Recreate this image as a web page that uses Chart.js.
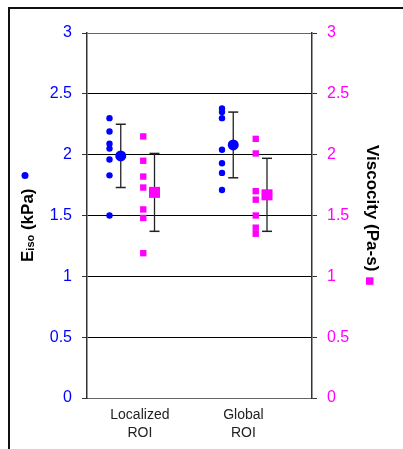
<!DOCTYPE html>
<html>
<head>
<meta charset="utf-8">
<script src="https://cdn.jsdelivr.net/npm/chart.js@4/dist/chart.umd.min.js"></script>
<style>
  body { margin: 0; background: #fff; }
</style>
</head>
<body>
<canvas id="chart" width="403" height="449"></canvas>
<script>
// categories and where their labels sit on the 0..2 x scale
const categories = ['Localized ROI', 'Global ROI'];
const catCenter = [0.5, 1.5];
const labelPos = [0.47, 1.39];

// individual samples
const eisoLocal  = [2.30, 2.19, 2.09, 2.05, 1.96, 1.83, 1.50];
const eisoGlobal = [2.38, 2.35, 2.30, 2.04, 1.93, 1.85, 1.71];
const viscLocal  = [2.15, 1.95, 1.82, 1.73, 1.55, 1.48, 1.19];
const viscGlobal = [2.13, 2.01, 1.70, 1.63, 1.50, 1.40, 1.35];

// mean +/- sd
const eisoMean = [1.99, 2.08];
const eisoSD   = [0.26, 0.27];
const viscMean = [1.69, 1.67];
const viscSD   = [0.32, 0.30];

const yTicks = [0, 0.5, 1, 1.5, 2, 2.5, 3];

const BLUE = '#0000ff';
const PINK = '#ff00ff';
const FONT = '"Liberation Sans", Arial, Helvetica, sans-serif';

// horizontal offsets inside a category
const offDots = -0.3, offEisoMean = -0.2, offVisc = 0, offViscMean = 0.1;

function pts(values, x){
    return values.map(v => ({x: x, y: v}));
}

const datasets = [];

// means on top
datasets.push({
    label: 'Eiso mean', yAxisID: 'y', order: 0,
    data: eisoMean.map((m,i) => ({x: catCenter[i] + offEisoMean, y: m})),
    pointStyle: 'circle', pointRadius: 5.5, pointBackgroundColor: BLUE, pointBorderWidth: 0
});
datasets.push({
    label: 'Visc mean', yAxisID: 'y2', order: 0,
    data: viscMean.map((m,i) => ({x: catCenter[i] + offViscMean, y: m})),
    pointStyle: 'rect', pointRadius: 7.8, pointBackgroundColor: PINK, pointBorderWidth: 0
});

// samples
datasets.push({
    label: 'Eiso', yAxisID: 'y', order: 1,
    data: pts(eisoLocal, catCenter[0] + offDots).concat(pts(eisoGlobal, catCenter[1] + offDots)),
    pointStyle: 'circle', pointRadius: 3.2, pointBackgroundColor: BLUE, pointBorderWidth: 0
});
datasets.push({
    label: 'Viscocity', yAxisID: 'y2', order: 1,
    data: pts(viscLocal, catCenter[0] + offVisc).concat(pts(viscGlobal, catCenter[1] + offVisc)),
    pointStyle: 'rect', pointRadius: 4.5, pointBackgroundColor: PINK, pointBorderWidth: 0
});

// error bars, one small line dataset each
function errorBar(mean, sd, x, axis){
    return {
        yAxisID: axis, order: 2, showLine: true,
        data: [{x: x, y: mean - sd}, {x: x, y: mean + sd}],
        borderColor: '#222', borderWidth: 1.3,
        pointStyle: 'line', pointRadius: 5, pointBorderColor: '#222', pointBorderWidth: 1.5
    };
}
for (let i = 0; i < categories.length; i++) {
    datasets.push(errorBar(eisoMean[i], eisoSD[i], catCenter[i] + offEisoMean, 'y'));
    datasets.push(errorBar(viscMean[i], viscSD[i], catCenter[i] + offViscMean, 'y2'));
}

// outer frame (left and top edges only)
const frame = {
    id: 'frame',
    beforeDraw(chart){
        const ctx = chart.ctx;
        ctx.save();
        ctx.fillStyle = '#111';
        ctx.fillRect(8, 7, chart.width - 8, 2);
        ctx.fillRect(8, 7, 2, chart.height - 7);
        ctx.restore();
    }
};

// axis titles with subscript and marker symbols
const axisTitles = {
    id: 'axisTitles',
    afterDraw(chart){
        const ctx = chart.ctx;
        ctx.save();
        ctx.fillStyle = '#000';
        ctx.textBaseline = 'alphabetic';
        ctx.textAlign = 'left';

        // left: E_iso (kPa) + blue dot
        ctx.save();
        ctx.translate(33, 262);
        ctx.rotate(-Math.PI / 2);
        let u = 0;
        ctx.font = 'bold 17px ' + FONT;
        ctx.fillText('E', u, 0);
        u += ctx.measureText('E').width;
        ctx.font = 'bold 11px ' + FONT;
        ctx.fillText('iso', u, 1);
        u += ctx.measureText('iso').width;
        ctx.font = 'bold 17px ' + FONT;
        ctx.fillText(' (kPa)', u, 0);
        u += ctx.measureText(' (kPa)').width;
        ctx.fillStyle = BLUE;
        ctx.beginPath();
        ctx.arc(u + 13, -8, 3.5, 0, Math.PI * 2);
        ctx.fill();
        ctx.restore();

        // right: Viscocity (Pa-s) + pink square
        ctx.save();
        ctx.translate(367, 145);
        ctx.rotate(Math.PI / 2);
        ctx.font = 'bold 17px ' + FONT;
        ctx.fillStyle = '#000';
        ctx.fillText('Viscocity (Pa-s)', 0, 0);
        const w = ctx.measureText('Viscocity (Pa-s)').width;
        ctx.fillStyle = PINK;
        ctx.fillRect(w + 6, -6.5, 7.5, 7.5);
        ctx.restore();

        ctx.restore();
    }
};

const ctx = document.getElementById('chart').getContext('2d');
Chart.defaults.font.family = FONT;

window.viscChart = new Chart(ctx, {
    type: 'scatter',
    data: { datasets: datasets },
    plugins: [frame, axisTitles],
    options: {
        responsive: false,
        animation: false,
        events: [],
        layout: { padding: { top: 33, bottom: 0, left: 0, right: 0 } },
        plugins: { legend: { display: false }, tooltip: { enabled: false } },
        scales: {
            x: {
                type: 'linear', min: 0, max: 2,
                afterBuildTicks: s => { s.ticks = labelPos.map(v => ({value: v})); },
                afterFit: s => { s.height = 51; },
                ticks: {
                    autoSkip: false, maxRotation: 0, padding: 8,
                    color: '#222', font: { size: 14, lineHeight: 1.3 },
                    callback: (v, i) => categories[i].split(' ')
                },
                grid: { display: false, drawTicks: false },
                border: { color: '#666', width: 1 }
            },
            y: {
                position: 'left', min: 0, max: 3,
                afterBuildTicks: s => { s.ticks = yTicks.map(v => ({value: v})); },
                afterFit: s => { s.width = 87; },
                ticks: { color: BLUE, font: { size: 16 }, padding: 10, callback: v => String(v) },
                grid: {
                    color: c => (c.tick && (c.tick.value === 3 || c.tick.value === 0)) ? '#666' : '#000',
                    lineWidth: 1, tickColor: '#333', tickLength: 5
                },
                border: { color: '#333', width: 1.5 }
            },
            y2: {
                position: 'right', min: 0, max: 3,
                afterBuildTicks: s => { s.ticks = yTicks.map(v => ({value: v})); },
                afterFit: s => { s.width = 403 - 312; },
                ticks: { color: PINK, font: { size: 16 }, padding: 10, callback: v => String(v) },
                grid: { drawOnChartArea: false, tickColor: '#333', tickLength: 5 },
                border: { color: '#333', width: 1.5 }
            }
        }
    }
});
</script>
</body>
</html>
